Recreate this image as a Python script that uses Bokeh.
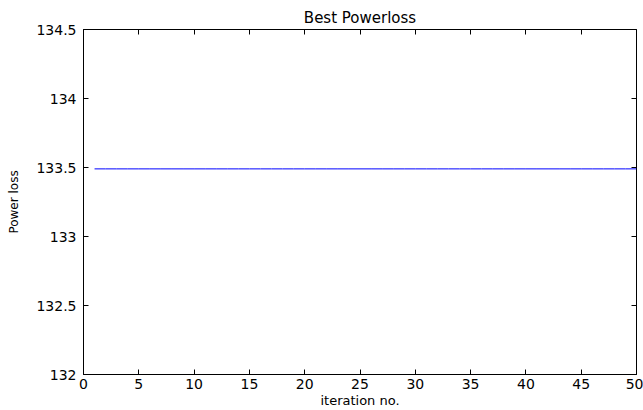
from bokeh.plotting import figure
from bokeh.models import LinearAxis, FixedTicker, Range1d
from bokeh.embed import file_html
from bokeh.resources import INLINE

iterations = [1, 2, 3, 4, 5, 6, 7, 8, 9, 10, 11, 12, 13, 14, 15, 16, 17, 18, 19, 20,
              21, 22, 23, 24, 25, 26, 27, 28, 29, 30, 31, 32, 33, 34, 35, 36, 37, 38, 39, 40,
              41, 42, 43, 44, 45, 46, 47, 48, 49, 50]
best_powerloss = [133.49, 133.49, 133.49, 133.49, 133.49, 133.49, 133.49, 133.49, 133.49, 133.49,
                  133.49, 133.49, 133.49, 133.49, 133.49, 133.49, 133.49, 133.49, 133.49, 133.49,
                  133.49, 133.49, 133.49, 133.49, 133.49, 133.49, 133.49, 133.49, 133.49, 133.49,
                  133.49, 133.49, 133.49, 133.49, 133.49, 133.49, 133.49, 133.49, 133.49, 133.49,
                  133.49, 133.49, 133.49, 133.49, 133.49, 133.49, 133.49, 133.49, 133.49, 133.49]
x_ticks = [0, 5, 10, 15, 20, 25, 30, 35, 40, 45, 50]
y_ticks = [132, 132.5, 133, 133.5, 134, 134.5]
y_tick_labels = {132: "132", 132.5: "132.5", 133: "133", 133.5: "133.5", 134: "134", 134.5: "134.5"}

FONT = "DejaVu Sans"

p = figure(frame_width=553, frame_height=345, output_backend="svg", toolbar_location=None,
           x_range=Range1d(0, 50), y_range=Range1d(132, 134.5),
           title="Best Powerloss", x_axis_label="iteration no.", y_axis_label="Power loss")

p.min_border_left = 83
p.min_border_right = 7
p.min_border_top = 29
p.min_border_bottom = 0

p.title.align = "center"
p.title.text_font = FONT
p.title.text_font_size = "15px"
p.title.text_font_style = "normal"
p.title.text_color = "#000000"
p.title.standoff = 5

p.grid.visible = False
p.outline_line_color = "#000000"
p.outline_line_alpha = 1.0
p.outline_line_width = 1
p.background_fill_color = "#ffffff"
p.border_fill_color = "#ffffff"

p.line(iterations, best_powerloss, line_color="#0000ff", line_width=1)

for ax in (p.xaxis[0], p.yaxis[0]):
    ax.major_tick_in = 5
    ax.major_tick_out = 0
    ax.minor_tick_in = 0
    ax.minor_tick_out = 0
    ax.axis_line_color = "#000000"
    ax.major_tick_line_color = "#000000"
    ax.major_tick_line_width = 1
    ax.major_label_text_font = FONT
    ax.major_label_text_font_size = "14px"
    ax.major_label_text_color = "#000000"
    ax.axis_label_text_font = FONT
    ax.axis_label_text_font_style = "normal"
    ax.axis_label_text_color = "#000000"

p.xaxis[0].axis_label_text_font_size = "13px"
p.yaxis[0].axis_label_text_font_size = "12px"
p.xaxis[0].ticker = FixedTicker(ticks=x_ticks)
p.yaxis[0].ticker = FixedTicker(ticks=y_ticks)
p.yaxis[0].major_label_overrides = y_tick_labels
p.xaxis[0].major_label_standoff = 4
p.xaxis[0].axis_label_standoff = 1
p.yaxis[0].major_label_standoff = 7
p.yaxis[0].axis_label_standoff = 12

top = LinearAxis(ticker=FixedTicker(ticks=x_ticks), major_tick_in=5, major_tick_out=0,
                 minor_tick_in=0, minor_tick_out=0,
                 major_label_overrides={t: "" for t in x_ticks},
                 axis_line_color=None, major_tick_line_color="#000000", major_label_standoff=0)
right = LinearAxis(ticker=FixedTicker(ticks=y_ticks), major_tick_in=5, major_tick_out=0,
                   minor_tick_in=0, minor_tick_out=0,
                   major_label_overrides={t: "" for t in y_ticks},
                   axis_line_color=None, major_tick_line_color="#000000", major_label_standoff=0)
p.add_layout(top, "above")
p.add_layout(right, "right")

open("out.html", "w").write(file_html(p, INLINE))
